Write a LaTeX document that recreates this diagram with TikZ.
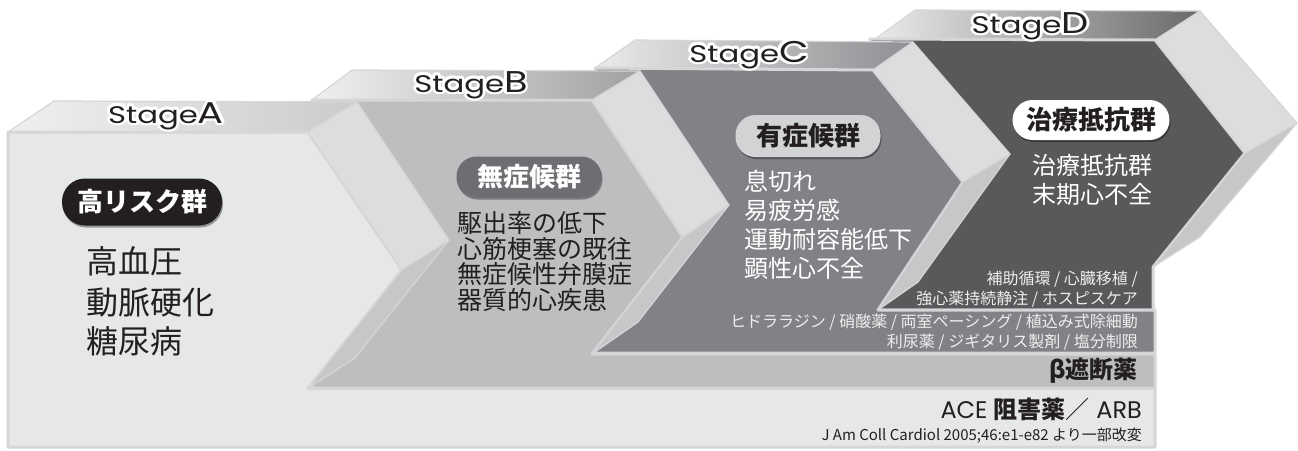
\documentclass[tikz,border=0pt]{standalone}
\usepackage{fontspec}
\newfontfamily\jp{Noto Sans CJK JP}
\newfontfamily\pop{Poppins}
\usetikzlibrary{calc,shadows}
\definecolor{afront}{HTML}{E6E7E8}
\definecolor{bfront}{HTML}{BCBEC0}
\definecolor{cfront}{HTML}{808285}
\definecolor{dfront}{HTML}{58595B}
\definecolor{sideU}{HTML}{DCDDDE}
\definecolor{sideL}{HTML}{C6C7C9}
\definecolor{edge}{HTML}{D5D6D8}
\definecolor{ink}{HTML}{231F20}
\definecolor{pillB}{HTML}{6D6E71}
\definecolor{pillC}{HTML}{D1D3D4}
\definecolor{rowtxt}{HTML}{EEEEEE}
\tikzset{
  face/.style={draw=edge, line width=1.2, line join=round},
  frontface/.style={draw=edge, line width=3, line join=round},
  pill/.style={inner sep=0, rounded corners=20, minimum height=41,
    font=\jp\bfseries\fontsize{26}{26}\selectfont,
    drop shadow={shadow xshift=1pt, shadow yshift=-2pt, opacity=0.35, fill=black}},
  stagetxt/.style={inner sep=0, anchor=base},
  lst/.style={inner sep=0, anchor=west},
  rowl/.style={inner sep=0, anchor=east, font=\jp\fontsize{16}{16}\selectfont},
}
\newcommand{\stagecontent}[1]{\scalebox{1.28}[1]{\pop\fontsize{24}{24}\selectfont Stage\fontsize{30}{30}\selectfont #1}}
\newcommand{\stagelab}[3]{%
  \foreach \ang in {0,30,...,330}{\node[stagetxt,text=white] at ($(#2)+(\ang:2.8)$) {\stagecontent{#3}};}
  \node[stagetxt,text=ink] (#1) at (#2) {\stagecontent{#3}};}
\begin{document}
\begin{tikzpicture}[x=1pt,y=-1pt]
\useasboundingbox (0,0) rectangle (1298,450);
% ---------- Stage D ----------
\shade[left color=white!92!black, right color=dfront!90!white] (875,39) -- (915,10) -- (1200,11) -- (1155,40) -- cycle;
\draw[face] (875,39) -- (915,10) -- (1200,11) -- (1155,40) -- cycle;
\filldraw[frontface, fill=dfront] (870,39) -- (1155,40) -- (1245,153) -- (1153,267) -- (1153,310) -- (870,310) -- cycle;
\filldraw[face, fill=sideU] (1155,40) -- (1200,11) -- (1297,123) -- (1245,153) -- cycle;
\filldraw[face, fill=sideL] (1245,153) -- (1297,123) -- (1200,237) -- (1153,267) -- cycle;
% ---------- Stage C ----------
\shade[left color=white!92!black, right color=cfront!90!white] (595,68) -- (635,40) -- (913,42) -- (873,70) -- cycle;
\draw[face] (595,68) -- (635,40) -- (913,42) -- (873,70) -- cycle;
\filldraw[frontface, fill=cfront] (595,68) -- (873,70) -- (963,182) -- (878,310) -- (1155,310) -- (1155,353) -- (595,353) -- cycle;
\filldraw[face, fill=sideU] (873,70) -- (913,42) -- (1010,154) -- (963,182) -- cycle;
\filldraw[face, fill=sideL] (963,182) -- (1010,154) -- (918,282) -- (878,310) -- cycle;
% ---------- Stage B ----------
\shade[left color=white!94!black, right color=bfront!85!black] (312,100) -- (352,70) -- (640,71) -- (592,100) -- cycle;
\draw[face] (312,100) -- (352,70) -- (640,71) -- (592,100) -- cycle;
\filldraw[frontface, fill=bfront] (312,100) -- (592,100) -- (683,237) -- (592,354) -- (1155,354) -- (1155,388) -- (312,388) -- cycle;
\filldraw[face, fill=sideU] (592,100) -- (640,71) -- (729,205) -- (683,237) -- cycle;
\filldraw[face, fill=sideL] (683,237) -- (729,205) -- (638,322) -- (592,354) -- cycle;
% ---------- Stage A ----------
\shade[left color=white!94!black, right color=afront!88!black] (8,132) -- (54,101) -- (357,102) -- (308,132) -- cycle;
\draw[face] (8,132) -- (54,101) -- (357,102) -- (308,132) -- cycle;
\filldraw[frontface, fill=afront] (8,132) -- (308,132) -- (402,270) -- (308,388.5) -- (1155,388.5) -- (1155,447) -- (8,447) -- cycle;
\filldraw[face, fill=sideU] (308,132) -- (357,102) -- (449,240) -- (402,270) -- cycle;
\filldraw[face, fill=sideL] (402,270) -- (449,240) -- (355,358) -- (308,388) -- cycle;
% ---------- Stage labels ----------
\stagelab{labA}{166,123}{A}
\stagelab{labB}{471,92}{B}
\stagelab{labC}{749,62}{C}
\stagelab{labD}{1030,33}{D}
% ---------- Pills ----------
\node[pill, fill=ink, text=white, minimum width=160, minimum height=47, rounded corners=23] (pA) at (142,202) {高リスク群};
\node[pill, fill=pillB, text=white, minimum width=145] (pB) at (529,177) {無症候群};
\node[pill, fill=pillC, text=ink, minimum width=145, minimum height=42] (pC) at (808,136) {有症候群};
\node[pill, fill=white, text=ink, minimum width=157, minimum height=40] (pD) at (1091,120) {治療抵抗群};
% ---------- Lists ----------
\begin{scope}[every node/.style={lst, text=ink, font=\jp\fontsize{32}{32}\selectfont}]
\node (a1) at (86,261) {高血圧};
\node (a2) at (86,302) {動脈硬化};
\node (a3) at (86,341) {糖尿病};
\end{scope}
\begin{scope}[every node/.style={lst, text=ink, font=\jp\fontsize{25}{25}\selectfont}]
\node (b1) at (457,223) {駆出率の低下};
\node (b2) at (457,249) {心筋梗塞の既往};
\node (b3) at (457,274) {無症候性弁膜症};
\node (b4) at (457,300) {器質的心疾患};
\end{scope}
\begin{scope}[every node/.style={lst, text=white, font=\jp\fontsize{24}{24}\selectfont}]
\node (c1) at (744,181) {息切れ};
\node (c2) at (744,210) {易疲労感};
\node (c3) at (744,239) {運動耐容能低下};
\node (c4) at (744,268) {顕性心不全};
\node (d1) at (1032,165) {治療抵抗群};
\node (d2) at (1032,194) {末期心不全};
\end{scope}
% ---------- Rows ----------
\node[rowl, text=rowtxt] (dr1) at (1138,279) {補助循環 / 心臓移植 /};
\node[rowl, text=rowtxt] (dr2) at (1138,299) {強心薬持続静注 / ホスピスケア};
\node[rowl, text=rowtxt] (cr1) at (1138,322) {ヒドララジン / 硝酸薬 / 両室ペーシング / 植込み式除細動};
\node[rowl, text=rowtxt] (cr2) at (1138,342) {利尿薬 / ジギタリス製剤 / 塩分制限};
\node[inner sep=0, anchor=east, text=ink, font=\jp\bfseries\fontsize{24}{24}\selectfont] (beta) at (1138,371) {β遮断薬};
\node[inner sep=0, anchor=base east, text=ink] (ace) at (1142,418) {\pop\fontsize{24}{24}\selectfont ACE {\jp\bfseries 阻害薬}{\jp ／} ARB};
\node[inner sep=0, anchor=base east, text=ink, font=\jp\fontsize{15}{15}\selectfont] (ref) at (1142,440) {J Am Coll Cardiol 2005;46:e1-e82 より一部改変};
\end{tikzpicture}
\end{document}
